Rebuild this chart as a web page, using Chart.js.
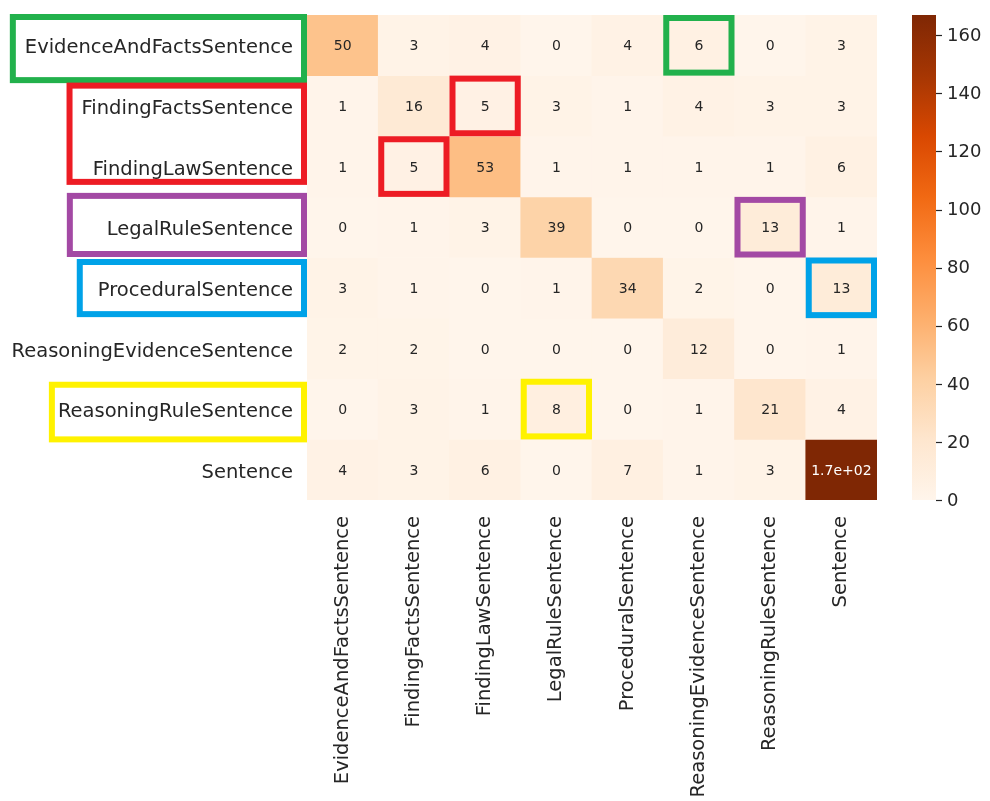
<!DOCTYPE html>
<html>
<head>
<meta charset="utf-8">
<script src="https://cdn.jsdelivr.net/npm/chart.js@4.4.1/dist/chart.umd.min.js"></script>
<style>
  html, body { margin: 0; padding: 0; background: #ffffff; }
  #wrap { width: 990px; height: 801px; }
</style>
</head>
<body>
<div id="wrap"><canvas id="cm" width="990" height="801"></canvas></div>
<script>
// Sentence-type classes (rows: true label, columns: predicted label)
const classes = [
  'EvidenceAndFactsSentence',
  'FindingFactsSentence',
  'FindingLawSentence',
  'LegalRuleSentence',
  'ProceduralSentence',
  'ReasoningEvidenceSentence',
  'ReasoningRuleSentence',
  'Sentence'
];

// Confusion counts, one array per true class
const evidenceAndFactsRow  = [50, 3, 4, 0, 4, 6, 0, 3];
const findingFactsRow      = [1, 16, 5, 3, 1, 4, 3, 3];
const findingLawRow        = [1, 5, 53, 1, 1, 1, 1, 6];
const legalRuleRow         = [0, 1, 3, 39, 0, 0, 13, 1];
const proceduralRow        = [3, 1, 0, 1, 34, 2, 0, 13];
const reasoningEvidenceRow = [2, 2, 0, 0, 0, 12, 0, 1];
const reasoningRuleRow     = [0, 3, 1, 8, 0, 1, 21, 4];
const sentenceRow          = [4, 3, 6, 0, 7, 1, 3, 167];

const counts = [
  evidenceAndFactsRow, findingFactsRow, findingLawRow, legalRuleRow,
  proceduralRow, reasoningEvidenceRow, reasoningRuleRow, sentenceRow
];

// Colour bar tick values
const colorbarTicks = [0, 20, 40, 60, 80, 100, 120, 140, 160];

// Highlighted confusions: [row, column] cells and the row labels they belong to
const greenCells  = [[0, 5]];
const redCells    = [[1, 2], [2, 1]];
const purpleCells = [[3, 6]];
const blueCells   = [[4, 7]];
const yellowCells = [[6, 3]];
const greenRows  = [0, 0];
const redRows    = [1, 2];
const purpleRows = [3, 3];
const blueRows   = [4, 4];
const yellowRows = [6, 6];

// ---- styling ----
const FONT = 'DejaVu Sans';
const INK = '#262626';
const LABEL_SIZE = 19.5;
const ORANGES = ['#fff5eb', '#fee6ce', '#fdd0a2', '#fdae6b', '#fd8d3c',
                 '#f16913', '#d94801', '#a63603', '#7f2704'];
const vmax = Math.max(...counts.flat());

const outlines = [
  { color: '#22b14c', cells: greenCells,  rows: greenRows,  padLeft: 12, top: 2,  bottom: 4.5 },
  { color: '#ed1c24', cells: redCells,    rows: redRows,    padLeft: 12, top: 10, bottom: -15 },
  { color: '#a349a4', cells: purpleCells, rows: purpleRows, padLeft: 37, top: -1, bottom: -3.5 },
  { color: '#00a2e8', cells: blueCells,   rows: blueRows,   padLeft: 18, top: 4.5, bottom: -4 },
  { color: '#fff200', cells: yellowCells, rows: yellowRows, padLeft: 6,  top: 6,  bottom: 0 }
];

function hexToRgb(h) {
  return [parseInt(h.slice(1, 3), 16), parseInt(h.slice(3, 5), 16), parseInt(h.slice(5, 7), 16)];
}
const orangeStops = ORANGES.map(hexToRgb);

function orangeRgb(v) {
  const t = Math.min(1, Math.max(0, v / vmax)) * (orangeStops.length - 1);
  const i = Math.min(orangeStops.length - 2, Math.floor(t));
  const f = t - i;
  const a = orangeStops[i], b = orangeStops[i + 1];
  return a.map((c, k) => Math.round(c + (b[k] - c) * f));
}
function orangeColor(v) {
  const [r, g, b] = orangeRgb(v);
  return `rgb(${r},${g},${b})`;
}
function textColorFor(v) {
  const lin = orangeRgb(v).map(c => {
    c /= 255;
    return c <= 0.03928 ? c / 12.92 : Math.pow((c + 0.055) / 1.055, 2.4);
  });
  const lum = 0.2126 * lin[0] + 0.7152 * lin[1] + 0.0722 * lin[2];
  return lum > 0.408 ? INK : '#ffffff';
}
// two significant digits, like the '.2g' format
function formatCount(n) {
  if (n < 100) return String(n);
  const exp = Math.floor(Math.log10(n));
  const mant = (n / Math.pow(10, exp)).toFixed(1);
  return `${mant}e+${String(exp).padStart(2, '0')}`;
}

// axes keep a fixed thickness and add no extra edge padding
function fixedBox(size) {
  return s => {
    if (s.isHorizontal()) s.height = size; else s.width = size;
    s.paddingTop = 0; s.paddingBottom = 0; s.paddingLeft = 0; s.paddingRight = 0;
  };
}

const datasets = counts.map((row, r) => ({
  label: classes[r],
  data: row.map((n, c) => ({ x: classes[c], y: 1, n })),
  backgroundColor: ctx => orangeColor(ctx.raw.n),
  borderWidth: 0,
  barPercentage: 1,
  categoryPercentage: 1
}));

const heatmapExtras = {
  id: 'heatmapExtras',
  afterDatasetsDraw(chart) {
    const ctx = chart.ctx;
    ctx.save();
    ctx.font = `14px "${FONT}"`;
    ctx.textAlign = 'center';
    ctx.textBaseline = 'middle';
    chart.data.datasets.forEach((ds, r) => {
      chart.getDatasetMeta(r).data.forEach((bar, c) => {
        const n = ds.data[c].n;
        const { x, y, base } = bar.getProps(['x', 'y', 'base'], true);
        ctx.fillStyle = textColorFor(n);
        ctx.fillText(formatCount(n), x, (y + base) / 2 + 1.5);
      });
    });
    ctx.restore();
  },
  afterDraw(chart) {
    const ctx = chart.ctx;
    const cb = chart.scales.cb;
    const xs = chart.scales.x;
    const ys = chart.scales.y;
    const area = chart.chartArea;

    // colour bar
    const barLeft = cb.left + 35, barW = 24;
    const yTop = cb.getPixelForValue(vmax), yBot = cb.getPixelForValue(0);
    const grad = ctx.createLinearGradient(0, yBot, 0, yTop);
    ORANGES.forEach((col, i) => grad.addColorStop(i / (ORANGES.length - 1), col));
    ctx.save();
    ctx.fillStyle = grad;
    ctx.fillRect(barLeft, yTop, barW, yBot - yTop);
    ctx.strokeStyle = INK;
    ctx.lineWidth = 1.2;
    colorbarTicks.forEach(v => {
      const py = Math.round(cb.getPixelForValue(v)) + 0.5;
      ctx.beginPath();
      ctx.moveTo(barLeft + barW, py);
      ctx.lineTo(barLeft + barW + 6, py);
      ctx.stroke();
    });

    // outlines around highlighted cells and their row labels
    const halfW = (xs.getPixelForValue(1) - xs.getPixelForValue(0)) / 2;
    ctx.lineWidth = 6;
    ctx.font = `${LABEL_SIZE}px "${FONT}"`;
    const labelRight = area.left - 14;
    outlines.forEach(o => {
      ctx.strokeStyle = o.color;
      o.cells.forEach(([r, c]) => {
        const cx = xs.getPixelForValue(c);
        const top = ys.getPixelForValue(r), bot = ys.getPixelForValue(r + 1);
        ctx.strokeRect(cx - halfW + 3, top + 3, 2 * halfW - 6, bot - top - 6);
      });
      const [r0, r1] = o.rows;
      let widest = 0;
      for (let r = r0; r <= r1; r++) widest = Math.max(widest, ctx.measureText(classes[r]).width);
      const left = labelRight - widest - o.padLeft;
      const right = area.left - 3;
      const top = ys.getPixelForValue(r0) + o.top;
      const bot = ys.getPixelForValue(r1 + 1) + o.bottom;
      ctx.strokeRect(left, top, right - left, bot - top);
    });
    ctx.restore();
  }
};

new Chart(document.getElementById('cm'), {
  type: 'bar',
  data: { labels: classes, datasets },
  plugins: [heatmapExtras],
  options: {
    responsive: false,
    animation: false,
    layout: { padding: { top: 15, left: 0, right: 0, bottom: 0 } },
    plugins: { legend: { display: false }, tooltip: { enabled: false } },
    scales: {
      x: {
        type: 'category',
        position: 'bottom',
        stacked: true,
        grid: { display: false, drawTicks: false },
        border: { display: false },
        ticks: {
          autoSkip: false,
          minRotation: 90,
          maxRotation: 90,
          padding: 16,
          color: INK,
          font: { family: FONT, size: LABEL_SIZE }
        },
        afterFit: fixedBox(301)
      },
      y: {
        type: 'linear',
        position: 'left',
        stacked: true,
        min: 0,
        max: classes.length,
        reverse: true,
        grid: { display: false, drawTicks: false },
        border: { display: false },
        afterBuildTicks(s) { s.ticks = classes.map((_, i) => ({ value: i + 0.5 })); },
        ticks: {
          autoSkip: false,
          padding: 14,
          labelOffset: 3,
          color: INK,
          font: { family: FONT, size: LABEL_SIZE },
          callback: v => classes[Math.floor(v)]
        },
        afterFit: fixedBox(307)
      },
      cb: {
        type: 'linear',
        position: 'right',
        min: 0,
        max: vmax,
        grid: { display: false, drawTicks: false },
        border: { display: false },
        afterBuildTicks(s) { s.ticks = colorbarTicks.map(v => ({ value: v })); },
        ticks: {
          padding: 70,
          labelOffset: 1,
          color: INK,
          font: { family: FONT, size: 18 }
        },
        afterFit: fixedBox(113)
      }
    }
  }
});
</script>
</body>
</html>
